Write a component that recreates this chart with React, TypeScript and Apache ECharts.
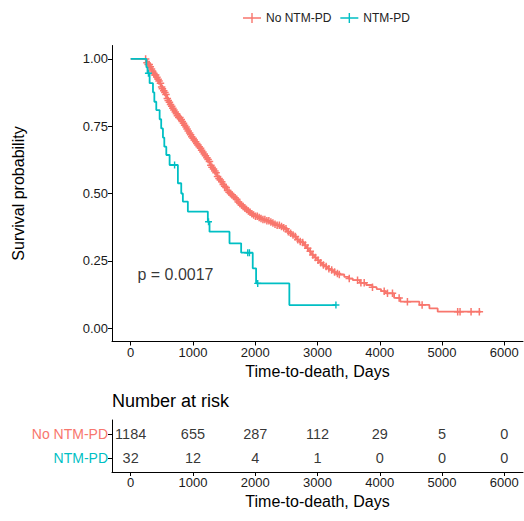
import { useEffect, useRef } from "react";
import * as echarts from "echarts";

const RED = "#F8766D";
const TEAL = "#00BFC4";
const FONT = "'Liberation Sans', Arial, Helvetica, sans-serif";

const groupNames = ["No NTM-PD", "NTM-PD"];
const xTicks = [0, 1000, 2000, 3000, 4000, 5000, 6000];
const yTicks = [0, 0.25, 0.5, 0.75, 1];

// No NTM-PD Kaplan-Meier curve (days, survival after step)
const noNtmTime = [0, 225, 245, 262, 280, 305, 325, 345, 366, 385, 405, 425, 445, 465, 480, 495, 510, 525, 540, 556, 573, 588, 603, 618, 633, 648, 663, 678, 700, 722, 745, 768, 791, 815, 839, 858, 877, 896, 915, 934, 953, 973, 992, 1011, 1030, 1050, 1069, 1088, 1107, 1127, 1147, 1167, 1187, 1207, 1227, 1247, 1267, 1285, 1303, 1321, 1339, 1357, 1375, 1393, 1411, 1428, 1446, 1464, 1482, 1500, 1518, 1536, 1554, 1572, 1588, 1611, 1634, 1657, 1680, 1703, 1726, 1749, 1776, 1803, 1830, 1857, 1884, 1910, 1936, 1962, 2000, 2040, 2080, 2120, 2177, 2220, 2260, 2300, 2345, 2391, 2425, 2460, 2498, 2530, 2560, 2590, 2620, 2650, 2680, 2710, 2740, 2765, 2785, 2805, 2825, 2845, 2865, 2885, 2905, 2925, 2945, 2965, 2985, 3005, 3025, 3045, 3065, 3085, 3115, 3145, 3175, 3205, 3235, 3265, 3299, 3350, 3430, 3500, 3567, 3680, 3781, 3880, 3950, 4020, 4095, 4230, 4330, 4636, 4797, 4930, 5626];
const noNtmSurv = [1.0, 1.0, 0.993, 0.986, 0.979, 0.971, 0.963, 0.955, 0.947, 0.94, 0.932, 0.925, 0.918, 0.91, 0.903, 0.896, 0.889, 0.882, 0.875, 0.868, 0.86, 0.853, 0.846, 0.839, 0.831, 0.824, 0.817, 0.81, 0.803, 0.796, 0.789, 0.782, 0.775, 0.768, 0.761, 0.754, 0.747, 0.74, 0.732, 0.725, 0.718, 0.711, 0.705, 0.699, 0.692, 0.686, 0.68, 0.674, 0.668, 0.661, 0.654, 0.647, 0.64, 0.633, 0.626, 0.619, 0.612, 0.605, 0.598, 0.591, 0.584, 0.577, 0.57, 0.563, 0.556, 0.55, 0.544, 0.538, 0.533, 0.527, 0.522, 0.516, 0.511, 0.505, 0.5, 0.495, 0.489, 0.484, 0.479, 0.474, 0.468, 0.463, 0.457, 0.452, 0.446, 0.441, 0.435, 0.43, 0.425, 0.42, 0.415, 0.411, 0.407, 0.403, 0.399, 0.394, 0.39, 0.386, 0.382, 0.377, 0.373, 0.369, 0.364, 0.358, 0.352, 0.346, 0.34, 0.334, 0.328, 0.322, 0.318, 0.315, 0.309, 0.303, 0.297, 0.291, 0.285, 0.279, 0.275, 0.271, 0.266, 0.262, 0.257, 0.252, 0.247, 0.243, 0.238, 0.234, 0.229, 0.225, 0.22, 0.216, 0.212, 0.208, 0.203, 0.199, 0.19, 0.184, 0.178, 0.168, 0.16, 0.152, 0.145, 0.137, 0.129, 0.112, 0.098, 0.086, 0.073, 0.061, 0.061];
const noNtmCensor = [240, 262, 281, 298, 315, 334, 350, 371, 389, 402, 421, 440, 455, 478, 497, 510, 531, 549, 566, 588, 603, 622, 640, 659, 677, 694, 716, 735, 751, 772, 790, 812, 829, 848, 866, 889, 905, 924, 946, 963, 981, 1002, 1020, 1043, 1061, 1079, 1100, 1122, 1139, 1160, 1182, 1201, 1224, 1243, 1265, 1287, 1306, 1330, 1352, 1371, 1395, 1418, 1440, 1462, 1487, 1509, 1533, 1556, 1580, 1604, 1627, 1651, 1676, 1702, 1729, 1754, 1780, 1806, 1833, 1861, 1889, 1917, 1946, 1975, 2004, 2033, 2063, 2093, 2124, 2155, 2187, 2219, 2251, 2284, 2318, 2352, 2387, 2422, 2458, 2494, 2531, 2569, 2607, 2645, 2684, 2723, 2763, 2803, 2843, 2884, 2925, 2967, 3009, 3052, 3095, 3139, 3183, 3228, 3274, 3320, 3350, 3510, 3643, 3697, 3750, 3883, 4071, 4124, 4204, 4311, 4444, 4680, 5251, 5289, 5466, 5599];

// NTM-PD Kaplan-Meier curve
const ntmTime = [0, 252, 270, 304, 358, 380, 411, 465, 490, 518, 540, 572, 625, 758, 812, 838, 918, 1239, 1266, 1587, 1774, 1960, 2014, 2548, 3296];
const ntmSurv = [1.0, 0.969, 0.947, 0.91, 0.876, 0.841, 0.81, 0.776, 0.742, 0.708, 0.674, 0.643, 0.606, 0.538, 0.5, 0.47, 0.433, 0.395, 0.358, 0.315, 0.28, 0.222, 0.166, 0.0855, 0.0855];
const ntmCensor = [285, 705, 1250, 1880, 1907, 2040, 3296];

// Number at risk
const riskTimes = [0, 1000, 2000, 3000, 4000, 5000, 6000];
const riskNoNtm = [1184, 655, 287, 112, 29, 5, 0];
const riskNtm = [32, 12, 4, 1, 0, 0, 0];

const pValueLabel = "p = 0.0017";
const pValuePos = [100, 0.2];

const PLUS = "path://M-1,-5h2v4h4v2h-4v4h-2v-4h-4v-2h4z";
const LEGEND_ICON = "path://M0,4.3h18v1.4h-18z M8.3,0h1.4v10h-1.4z";

function stepAt(times: number[], surv: number[], t: number) {
  let v = surv[0];
  for (let i = 0; i < times.length; i++) {
    if (times[i] <= t) v = surv[i];
  }
  return v;
}

export default function App() {
  const ref = useRef<HTMLDivElement>(null);
  useEffect(() => {
    if (!ref.current) return;
    const chart = echarts.init(ref.current, undefined, { renderer: "svg" });
    const axisLine = { show: true, onZero: false, lineStyle: { color: "#000", width: 1 } };
    const tickStyle = { color: "#000", width: 1 };
    const tickLabel = { fontFamily: FONT, fontSize: 13, color: "#1a1a1a" };
    const xName = {
      name: "Time-to-death, Days",
      nameLocation: "middle",
      nameTextStyle: { fontFamily: FONT, fontSize: 16, color: "#000" },
    };
    const hiddenItem = { color: "rgba(0,0,0,0)", borderWidth: 0 };

    const option: any = {
      animation: false,
      backgroundColor: "#fff",
      textStyle: { fontFamily: FONT },
      title: {
        text: "Number at risk",
        left: 107,
        top: 387,
        textStyle: { fontFamily: FONT, fontSize: 18, fontWeight: "normal", color: "#000" },
      },
      legend: {
        top: 7,
        left: 238,
        itemWidth: 18,
        itemHeight: 10,
        itemGap: 9,
        textStyle: { fontFamily: FONT, fontSize: 12, color: "#222" },
        data: [
          { name: groupNames[0], icon: LEGEND_ICON },
          { name: groupNames[1], icon: LEGEND_ICON },
        ],
      },
      grid: [
        { left: 112, top: 45.5, width: 411, height: 296, outerBoundsMode: "none" },
        { left: 112, top: 420, width: 411, height: 52, outerBoundsMode: "none" },
      ],
      xAxis: [
        {
          type: "value",
          gridIndex: 0,
          min: -300,
          max: 6300,
          axisLine,
          axisTick: { show: true, length: 4, lineStyle: tickStyle, customValues: xTicks },
          axisLabel: { ...tickLabel, margin: 4, customValues: xTicks, formatter: (v: number) => String(v) },
          splitLine: { show: false },
          ...xName,
          nameGap: 19,
        },
        {
          type: "value",
          gridIndex: 1,
          min: -300,
          max: 6300,
          axisLine,
          axisTick: { show: true, length: 4, lineStyle: tickStyle, customValues: xTicks },
          axisLabel: { ...tickLabel, margin: 4, customValues: xTicks, formatter: (v: number) => String(v) },
          splitLine: { show: false },
          ...xName,
          nameGap: 21,
        },
      ],
      yAxis: [
        {
          type: "value",
          gridIndex: 0,
          min: -0.05,
          max: 1.05,
          axisLine,
          axisTick: { show: true, length: 4, lineStyle: tickStyle, customValues: yTicks },
          axisLabel: {
            ...tickLabel,
            margin: 4,
            customValues: yTicks,
            formatter: (v: number) => v.toFixed(2),
          },
          splitLine: { show: false },
          name: "Survival probability",
          nameLocation: "middle",
          nameGap: 86,
          nameTextStyle: { fontFamily: FONT, fontSize: 16, color: "#000" },
        },
        {
          type: "value",
          gridIndex: 1,
          min: 0.4,
          max: 2.6,
          axisLine,
          axisTick: { show: true, length: 4, lineStyle: tickStyle, customValues: [1, 2] },
          axisLabel: {
            margin: 4,
            customValues: [1, 2],
            formatter: (v: number) => (v === 2 ? "{a|" + groupNames[0] + "}" : "{b|" + groupNames[1] + "}"),
            rich: {
              a: { fontFamily: FONT, fontSize: 14, color: RED },
              b: { fontFamily: FONT, fontSize: 14, color: TEAL },
            },
          },
          splitLine: { show: false },
        },
      ],
      series: [
        {
          name: groupNames[0],
          type: "line",
          xAxisIndex: 0,
          yAxisIndex: 0,
          step: "end",
          showSymbol: false,
          symbol: "none",
          color: RED,
          lineStyle: { color: RED, width: 1.8 },
          data: noNtmTime.map((t, i) => [t, noNtmSurv[i]]),
        },
        {
          name: groupNames[0] + " censored",
          type: "scatter",
          xAxisIndex: 0,
          yAxisIndex: 0,
          symbol: PLUS,
          symbolSize: 7.5,
          itemStyle: { color: RED, opacity: 1 },
          data: noNtmCensor.map((t) => [t, stepAt(noNtmTime, noNtmSurv, t)]),
        },
        {
          name: groupNames[1],
          type: "line",
          xAxisIndex: 0,
          yAxisIndex: 0,
          step: "end",
          showSymbol: false,
          symbol: "none",
          color: TEAL,
          lineStyle: { color: TEAL, width: 1.8 },
          data: ntmTime.map((t, i) => [t, ntmSurv[i]]),
        },
        {
          name: groupNames[1] + " censored",
          type: "scatter",
          xAxisIndex: 0,
          yAxisIndex: 0,
          symbol: PLUS,
          symbolSize: 7,
          itemStyle: { color: TEAL, opacity: 1 },
          data: ntmCensor.map((t) => [t, stepAt(ntmTime, ntmSurv, t)]),
        },
        {
          name: "pvalue",
          type: "scatter",
          xAxisIndex: 0,
          yAxisIndex: 0,
          symbolSize: 1,
          itemStyle: hiddenItem,
          label: {
            show: true,
            position: "right",
            distance: 0,
            formatter: pValueLabel,
            fontFamily: FONT,
            fontSize: 16,
            color: "#000",
          },
          data: [pValuePos],
        },
        {
          name: "risk1",
          type: "scatter",
          xAxisIndex: 1,
          yAxisIndex: 1,
          symbolSize: 1,
          itemStyle: hiddenItem,
          label: {
            show: true,
            position: "inside",
            formatter: (p: any) => String(p.value[2]),
            fontFamily: FONT,
            fontSize: 14.5,
            color: "#000",
          },
          data: riskTimes.map((t, i) => [t, 2, riskNoNtm[i]]),
        },
        {
          name: "risk2",
          type: "scatter",
          xAxisIndex: 1,
          yAxisIndex: 1,
          symbolSize: 1,
          itemStyle: hiddenItem,
          label: {
            show: true,
            position: "inside",
            formatter: (p: any) => String(p.value[2]),
            fontFamily: FONT,
            fontSize: 14.5,
            color: "#000",
          },
          data: riskTimes.map((t, i) => [t, 1, riskNtm[i]]),
        },
      ],
    };
    chart.setOption(option);
    return () => chart.dispose();
  }, []);
  return (
    <div
      ref={ref}
      style={{ position: "fixed", left: 0, top: 0, width: 524, height: 521, background: "#fff" }}
    />
  );
}
